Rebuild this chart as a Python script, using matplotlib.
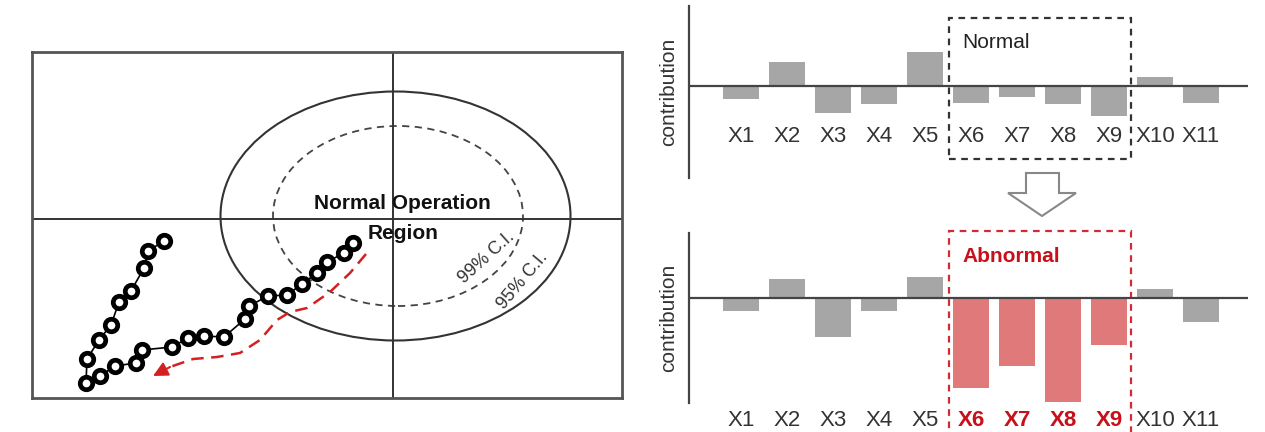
import matplotlib
matplotlib.use('Agg')
import matplotlib.pyplot as plt
from matplotlib.patches import Ellipse, Rectangle, Polygon

plt.rcParams['font.family'] = ['Liberation Sans Narrow', 'Liberation Sans', 'DejaVu Sans']

# ---- score plot data (t1, t2) ----
t1 = [-4.58, -4.90, -4.98, -5.24, -5.48, -5.64, -5.88, -6.12, -6.14, -5.86,
      -5.56, -5.14, -5.02, -4.42, -4.10, -3.78, -3.38, -2.96, -2.88, -2.50,
      -2.12, -1.82, -1.52, -1.32, -0.98, -0.80]
t2 = [-0.44, -0.64, -0.98, -1.44, -1.66, -2.12, -2.42, -2.80, -3.28, -3.14,
      -2.94, -2.88, -2.62, -2.56, -2.38, -2.34, -2.36, -2.00, -1.74, -1.54,
      -1.52, -1.30, -1.08, -0.86, -0.68, -0.48]

# drift direction (red dashed arrow)
drift_t1 = [-0.54, -0.86, -1.26, -1.72, -2.06, -2.32, -2.66, -3.06, -3.52,
            -4.00, -4.46, -4.80]
drift_t2 = [-0.70, -1.08, -1.46, -1.78, -1.86, -2.02, -2.42, -2.68, -2.76,
            -2.80, -2.96, -3.14]

# confidence limits: (center t1, center t2, width, height)
ci95 = (0.05, 0.06, 7.0, 4.98)
ci99 = (0.10, 0.06, 5.0, 3.6)

# ---- contribution plot data ----
variables = ['X1', 'X2', 'X3', 'X4', 'X5', 'X6', 'X7', 'X8', 'X9', 'X10', 'X11']
contrib_normal = [-1.3, 2.4, -2.7, -1.8, 3.4, -1.7, -1.1, -1.8, -3.0, 0.9, -1.7]
contrib_abnormal = [-1.3, 1.9, -3.9, -1.3, 2.1, -9.0, -6.8, -10.4, -4.7, 0.9, -2.4]
faulty = ['X6', 'X7', 'X8', 'X9']

W, H = 1265, 432
fig = plt.figure(figsize=(W / 100, H / 100), dpi=100)


def px_axes(x0, y0, x1, y1):
    # axes from pixel box (top-left origin)
    return fig.add_axes([x0 / W, 1 - y1 / H, (x1 - x0) / W, (y1 - y0) / H])


# ---------------- score plot ----------------
ax = px_axes(32, 52, 622, 398)
ax.set_xlim(-7.22, 4.58)
ax.set_ylim(-3.58, 3.34)
ax.set_xticks([])
ax.set_yticks([])
for s in ax.spines.values():
    s.set_color('#555555')
    s.set_linewidth(2)
ax.axvline(0, color='#333333', lw=1.4)
ax.axhline(0, color='#333333', lw=1.4)

cx, cy, w, h = ci95
ax.add_patch(Ellipse((cx, cy), w, h, fill=False, ec='#333333', lw=1.5))
cx, cy, w, h = ci99
ax.add_patch(Ellipse((cx, cy), w, h, fill=False, ec='#444444', lw=1.3,
                     ls=(0, (4, 3))))

ax.plot(t1, t2, color='black', lw=1.2, marker='o', ms=9,
        mfc='white', mec='black', mew=3.4, zorder=5)

ax.plot(drift_t1[:-1], drift_t2[:-1], color='#d42020', lw=1.8, ls=(0, (5, 3)))
ax.annotate('', xy=(drift_t1[-1], drift_t2[-1]),
            xytext=(drift_t1[-2], drift_t2[-2]),
            arrowprops=dict(arrowstyle='-|>', color='#d42020', lw=1.5,
                            mutation_scale=22, shrinkA=0, shrinkB=0))

ax.text(0.18, 0.30, 'Normal Operation', ha='center', va='center',
        fontsize=15, fontweight='bold', color='#111111', zorder=6)
ax.text(0.20, -0.30, 'Region', ha='center', va='center',
        fontsize=15, fontweight='bold', color='#111111', zorder=6)
ax.text(1.88, -0.78, '99% C.I.', ha='center', va='center', rotation=42,
        fontsize=13, color='#333333')
ax.text(2.60, -1.24, '95% C.I.', ha='center', va='center', rotation=50,
        fontsize=13, color='#333333')


# ---------------- contribution plots ----------------
def contribution_panel(axc, values, ylim, label_y, box, abnormal):
    xs = list(range(1, len(variables) + 1))
    colors = []
    for v in variables:
        if abnormal and v in faulty:
            colors.append('#e07a7a')
        else:
            colors.append('#a6a6a6')
    axc.bar(xs, values, width=0.78, color=colors)
    axc.set_xlim(-0.13, 12.02)
    axc.set_ylim(*ylim)
    axc.axhline(0, color='#444444', lw=1.6)
    for s in ['top', 'right', 'bottom']:
        axc.spines[s].set_visible(False)
    axc.spines['left'].set_color('#444444')
    axc.spines['left'].set_linewidth(1.6)
    axc.set_xticks([])
    axc.set_yticks([])
    axc.set_ylabel('contribution', fontsize=15, color='#333333', labelpad=8)
    for x, v in zip(xs, variables):
        if abnormal and v in faulty:
            axc.text(x, label_y, v, ha='center', va='center', fontsize=16,
                     color='#c8101a', fontweight='bold', clip_on=False)
        else:
            axc.text(x, label_y, v, ha='center', va='center', fontsize=16,
                     color='#333333', clip_on=False)
    bx0, by0, bx1, by1 = box
    ec = '#d42a35' if abnormal else '#333333'
    axc.add_patch(Rectangle((bx0, by0), bx1 - bx0, by1 - by0, fill=False,
                            ec=ec, lw=1.6, ls=(0, (3, 2.5)), clip_on=False))
    if abnormal:
        axc.text(bx0 + 0.3, 4.1, 'Abnormal', fontsize=15, fontweight='bold',
                 color='#c8101a', va='center')
    else:
        axc.text(bx0 + 0.3, 4.3, 'Normal', fontsize=15, color='#222222',
                 va='center')


ax_top = px_axes(689, 6, 1248, 178)
contribution_panel(ax_top, contrib_normal, (-9.2, 8.0), -5.1,
                   (5.52, -7.3, 9.48, 6.8), abnormal=False)

ax_bot = px_axes(689, 233, 1248, 403)
contribution_panel(ax_bot, contrib_abnormal, (-10.5, 6.5), -12.2,
                   (5.52, -14.5, 9.48, 6.7), abnormal=True)

# hollow down arrow between the panels
arrow_px = [(1026, 173), (1059, 173), (1059, 193), (1076, 193),
            (1042, 216), (1008, 193), (1026, 193)]
fig.patches.append(Polygon([(x / W, 1 - y / H) for x, y in arrow_px],
                           closed=True, fc='white', ec='#888888', lw=1.5,
                           transform=fig.transFigure, figure=fig))

fig.savefig('out.png', dpi=100)
